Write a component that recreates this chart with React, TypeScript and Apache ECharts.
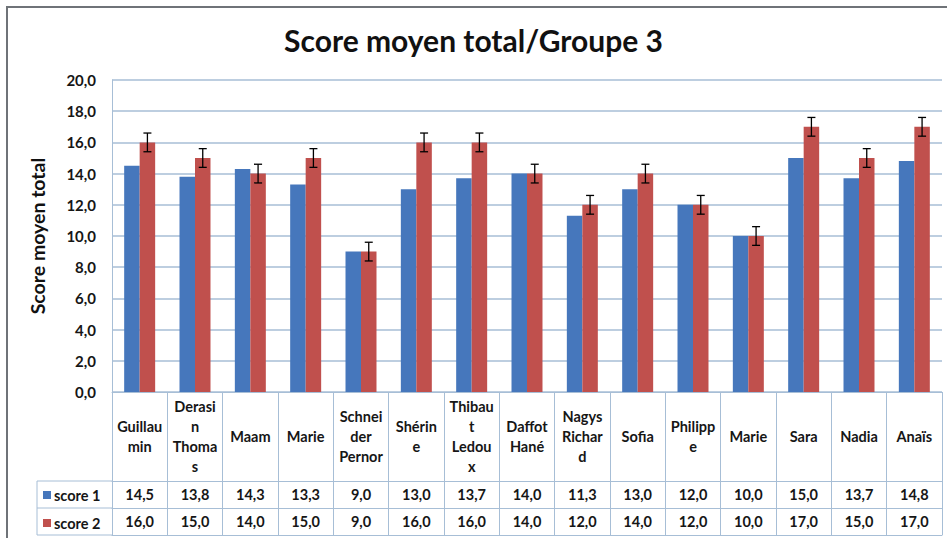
import React, { useEffect, useRef } from "react";
import * as echarts from "echarts";

const title = "Score moyen total/Groupe 3";
const yAxisTitle = "Score moyen total";
const categories = [
  "Guillau\nmin",
  "Derasi\nn\nThoma\ns",
  "Maam",
  "Marie",
  "Schnei\nder\nPernor",
  "Shérin\ne",
  "Thibau\nt\nLedou\nx",
  "Daffot\nHané",
  "Nagys\nRichar\nd",
  "Sofia",
  "Philipp\ne",
  "Marie",
  "Sara",
  "Nadia",
  "Anaïs",
];
const seriesNames = ["score 1", "score 2"];
const score1 = [14.5, 13.8, 14.3, 13.3, 9.0, 13.0, 13.7, 14.0, 11.3, 13.0, 12.0, 10.0, 15.0, 13.7, 14.8];
const score2 = [16.0, 15.0, 14.0, 15.0, 9.0, 16.0, 16.0, 14.0, 12.0, 14.0, 12.0, 10.0, 17.0, 15.0, 17.0];
const score2Error = 0.6;

const fmt = (v: number) => v.toFixed(1).replace(".", ",");

const FONT = "Lato, 'Open Sans', sans-serif";
const GRID_COLOR = "#A7BED6";
const BLUE = "#4677BC";
const RED = "#C0504D";

export default function App() {
  const ref = useRef<HTMLDivElement>(null);
  useEffect(() => {
    if (!ref.current) return;
    const chart = echarts.init(ref.current, null, { renderer: "svg" });
    const gridLeft = 112;
    const gridBottomY = 392;
    const tableBottom = 535;
    const row1 = 481;
    const row2 = 508;
    const labelStyle = { fontFamily: FONT, fontWeight: "bold" as const, fontSize: 14.5, color: "#161616" };

    chart.setOption({
      animation: false,
      backgroundColor: "#ffffff",
      title: {
        text: title,
        left: "center",
        top: 25,
        padding: [0, 0, 0, 12],
        textStyle: { fontFamily: FONT, fontWeight: "bold", fontSize: 30, color: "#111" },
      },
      legend: {
        data: seriesNames,
        orient: "vertical",
        left: 43,
        top: 487.5,
        padding: 0,
        itemGap: 13,
        itemWidth: 8,
        itemHeight: 8,
        icon: "rect",
        textStyle: { ...labelStyle, lineHeight: 14, padding: [0, 0, 0, -2] },
      },
      grid: { left: gridLeft, right: 5, top: 80, bottom: 538 - gridBottomY, containLabel: false },
      xAxis: [
        {
          type: "category",
          data: categories,
          position: "bottom",
          axisLine: { show: true, lineStyle: { color: GRID_COLOR, width: 1 } },
          axisTick: { show: true, interval: 0, length: tableBottom - gridBottomY, lineStyle: { color: GRID_COLOR, width: 1 } },
          axisLabel: { ...labelStyle, interval: 0, margin: (row1 - gridBottomY) / 2, verticalAlign: "middle", lineHeight: 20 },
          splitLine: { show: false },
        },
        {
          type: "category",
          data: categories,
          position: "bottom",
          offset: row1 - gridBottomY,
          axisLine: { show: true, lineStyle: { color: GRID_COLOR, width: 1 } },
          axisTick: { show: false },
          axisLabel: {
            ...labelStyle,
            interval: 0,
            margin: (row2 - row1) / 2,
            verticalAlign: "middle",
            formatter: (_v: string, i: number) => fmt(score1[i]),
          },
        },
        {
          type: "category",
          data: categories,
          position: "bottom",
          offset: row2 - gridBottomY,
          axisLine: { show: true, lineStyle: { color: GRID_COLOR, width: 1 } },
          axisTick: { show: false },
          axisLabel: {
            ...labelStyle,
            interval: 0,
            margin: (tableBottom - row2) / 2,
            verticalAlign: "middle",
            formatter: (_v: string, i: number) => fmt(score2[i]),
          },
        },
        {
          type: "category",
          data: categories,
          position: "bottom",
          offset: tableBottom - gridBottomY,
          axisLine: { show: true, lineStyle: { color: GRID_COLOR, width: 1 } },
          axisTick: { show: false },
          axisLabel: { show: false },
        },
      ],
      yAxis: {
        type: "value",
        min: 0,
        max: 20,
        interval: 2,
        name: yAxisTitle,
        nameLocation: "middle",
        nameRotate: 90,
        nameGap: 65,
        nameTextStyle: { fontFamily: FONT, fontWeight: "bold", fontSize: 19.5, color: "#111" },
        axisLine: { show: true, lineStyle: { color: GRID_COLOR, width: 1 } },
        axisTick: { show: false },
        axisLabel: { ...labelStyle, fontSize: 15, margin: 16, formatter: (v: number) => fmt(v) },
        splitLine: { show: true, lineStyle: { color: GRID_COLOR, width: 1.5 } },
      },
      series: [
        {
          name: seriesNames[0],
          type: "bar",
          xAxisIndex: 0,
          data: score1,
          barWidth: "28%",
          barGap: "0%",
          itemStyle: { color: BLUE },
        },
        {
          name: seriesNames[1],
          type: "bar",
          xAxisIndex: 0,
          data: score2,
          barWidth: "28%",
          barGap: "0%",
          itemStyle: { color: RED },
        },
        {
          name: "erreur",
          type: "custom",
          xAxisIndex: 0,
          z: 5,
          silent: true,
          data: score2.map((v, i) => [i, v - score2Error, v + score2Error]),
          encode: { x: 0, y: [1, 2] },
          renderItem: (_params: any, api: any) => {
            const idx = api.value(0);
            const lo = api.coord([idx, api.value(1)]);
            const hi = api.coord([idx, api.value(2)]);
            const band = api.size([1, 0])[0];
            const x = lo[0] + band * 0.14;
            const cap = 4;
            const style = { stroke: "#000", lineWidth: 1.3 };
            return {
              type: "group",
              children: [
                { type: "line", shape: { x1: x, y1: hi[1], x2: x, y2: lo[1] }, style },
                { type: "line", shape: { x1: x - cap, y1: hi[1], x2: x + cap, y2: hi[1] }, style },
                { type: "line", shape: { x1: x - cap, y1: lo[1], x2: x + cap, y2: lo[1] }, style },
              ],
            };
          },
        },
      ],
      graphic: [
        {
          type: "rect",
          shape: { x: 7, y: 7, width: 1000, height: 600 },
          style: { fill: "none", stroke: "#6f7378", lineWidth: 2 },
          silent: true,
        },
        {
          type: "line",
          shape: { x1: 37, y1: row1, x2: gridLeft, y2: row1 },
          style: { stroke: GRID_COLOR, lineWidth: 1 },
          silent: true,
        },
        {
          type: "line",
          shape: { x1: 37, y1: row2, x2: gridLeft, y2: row2 },
          style: { stroke: GRID_COLOR, lineWidth: 1 },
          silent: true,
        },
        {
          type: "line",
          shape: { x1: 37, y1: tableBottom, x2: gridLeft, y2: tableBottom },
          style: { stroke: GRID_COLOR, lineWidth: 1 },
          silent: true,
        },
        {
          type: "line",
          shape: { x1: 37, y1: row1, x2: 37, y2: tableBottom },
          style: { stroke: GRID_COLOR, lineWidth: 1 },
          silent: true,
        },
      ],
    });
    return () => chart.dispose();
  }, []);
  return (
    <div
      ref={ref}
      style={{ position: "fixed", left: 0, top: 0, width: 947, height: 538, background: "#fff" }}
    />
  );
}
